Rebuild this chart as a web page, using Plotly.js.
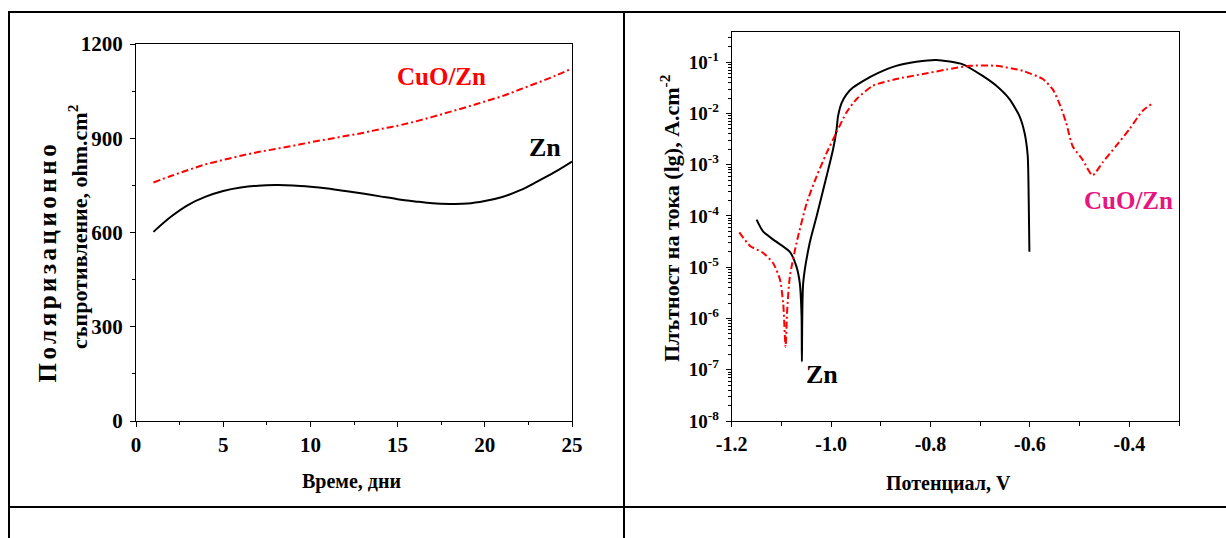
<!DOCTYPE html>
<html>
<head>
<meta charset="utf-8">
<script src="https://cdn.plot.ly/plotly-3.0.1.min.js"></script>
<style>
  html, body { margin: 0; padding: 0; background: #fff; }
  #chart { width: 1226px; height: 538px; }
</style>
</head>
<body>
<div id="chart"></div>
<script>
// ---- Left chart: polarization resistance vs time ----
const days = [1, 2, 3, 4, 5, 6, 7, 8, 9, 10, 11, 12, 13, 14, 15, 16, 17, 18, 19, 20, 21, 22, 23, 24, 25];
const rpZn = [602, 650, 688, 714, 732, 743, 749, 751, 750, 746, 740, 732, 724, 715, 706, 699, 693, 691, 692, 700, 713, 734, 762, 792, 826];
const rpCuOZn = [759, 780, 799, 817, 831, 844, 856, 866, 876, 887, 897, 907, 917, 929, 940, 953, 968, 984, 1000, 1017, 1034, 1055, 1076, 1098, 1122];

// ---- Right chart: polarization curves (potential V, current density A/cm2) ----
const potZn = [-1.150, -1.137, -1.117, -1.083, -1.070, -1.063, -1.0594, -1.0588, -1.0562, -1.043, -1.029, -1.009, -0.996, -0.989, -0.986, -0.979, -0.969, -0.956, -0.936, -0.905, -0.869, -0.8285, -0.788, -0.735, -0.695, -0.668, -0.641, -0.621, -0.611, -0.6044, -0.6024, -0.601];
const curZn = [8.5e-5, 5.0e-5, 3.5e-5, 2.0e-5, 1.05e-5, 4.9e-6, 1.1e-6, 1.45e-7, 4.9e-6, 3.0e-5, 1.0e-4, 6.0e-4, 2.0e-3, 4.9e-3, 8.9e-3, 1.6e-2, 2.37e-2, 3.2e-2, 4.3e-2, 6.2e-2, 8.5e-2, 1.02e-1, 1.11e-1, 9.1e-2, 5.4e-2, 3.5e-2, 1.9e-2, 8.9e-3, 4.3e-3, 1.5e-3, 2.1e-4, 2.0e-5];
const potCuOZn = [-1.1847, -1.163, -1.1365, -1.1165, -1.103, -1.0964, -1.0916, -1.0883, -1.083, -1.0695, -1.049, -1.029, -1.009, -0.989, -0.969, -0.949, -0.9156, -0.869, -0.815, -0.768, -0.7215, -0.668, -0.6145, -0.574, -0.554, -0.541, -0.527, -0.514, -0.494, -0.474, -0.454, -0.427, -0.400, -0.3735, -0.3546];
const curCuOZn = [4.8e-5, 2.6e-5, 1.9e-5, 1.2e-5, 5.8e-6, 2.0e-6, 2.8e-7, 1.5e-6, 6.6e-6, 3.0e-5, 1.8e-4, 6.0e-4, 1.7e-3, 4.3e-3, 1.05e-2, 1.9e-2, 3.5e-2, 4.7e-2, 5.9e-2, 7.2e-2, 8.5e-2, 8.5e-2, 6.8e-2, 4.7e-2, 2.95e-2, 1.6e-2, 6.6e-3, 2.3e-3, 1.26e-3, 6.2e-4, 1.1e-3, 2.3e-3, 4.9e-3, 1.12e-2, 1.55e-2];

const leftXTicks = [0, 5, 10, 15, 20, 25];
const leftYTicks = [0, 300, 600, 900, 1200];
const rightXTicks = [-1.2, -1.0, -0.8, -0.6, -0.4];
const rightXLabels = ['-1.2', '-1.0', '-0.8', '-0.6', '-0.4'];
const rightYTicks = [1e-8, 1e-7, 1e-6, 1e-5, 1e-4, 1e-3, 1e-2, 1e-1];
const rightYLabels = ['10<sup>-8</sup>', '10<sup>-7</sup>', '10<sup>-6</sup>', '10<sup>-5</sup>', '10<sup>-4</sup>', '10<sup>-3</sup>', '10<sup>-2</sup>', '10<sup>-1</sup>'];

const W = 1226, H = 538;
const px = x => x / W;
const py = y => 1 - y / H;
const SERIF = '"Times New Roman", "Liberation Serif", "DejaVu Serif", serif';

const DASHDOT = '7px,3px,2px,3px';
const traces = [
  { x: days, y: rpZn, mode: 'lines', line: { color: '#000', width: 2, shape: 'spline', smoothing: 1 }, xaxis: 'x', yaxis: 'y', name: 'Zn' },
  { x: days, y: rpCuOZn, mode: 'lines', line: { color: '#ff0000', width: 2, shape: 'spline', smoothing: 1, dash: DASHDOT }, xaxis: 'x', yaxis: 'y', name: 'CuO/Zn' },
  { x: potZn, y: curZn, mode: 'lines', line: { color: '#000', width: 2, shape: 'spline', smoothing: 0.6 }, xaxis: 'x2', yaxis: 'y2', name: 'Zn' },
  { x: potCuOZn, y: curCuOZn, mode: 'lines', line: { color: '#ff0000', width: 2, shape: 'spline', smoothing: 0.6, dash: DASHDOT }, xaxis: 'x2', yaxis: 'y2', name: 'CuO/Zn' }
];

const tickFontB = (s) => ({ family: SERIF, size: s, color: '#000', weight: 'bold' });

const axisBase = {
  showline: true, linecolor: '#000', linewidth: 1, mirror: true,
  showgrid: false, zeroline: false, ticks: 'outside', ticklen: 5, tickcolor: '#000', tickwidth: 1
};

function ann(text, x, y, size, color, angle) {
  return {
    text: text, x: px(x), y: py(y), xref: 'paper', yref: 'paper',
    xanchor: 'center', yanchor: 'middle', showarrow: false, textangle: angle || 0,
    font: { family: SERIF, size: size, color: color || '#000', weight: 'bold' }
  };
}

const layout = {
  width: W, height: H,
  font: { family: SERIF },
  margin: { l: 0, r: 0, t: 0, b: 0, autoexpand: false },
  paper_bgcolor: '#fff', plot_bgcolor: '#fff',
  showlegend: false,
  xaxis: Object.assign({}, axisBase, {
    domain: [px(136), px(572)], range: [0, 25], tickvals: leftXTicks, anchor: 'y',
    minor: { dtick: 2.5, ticks: 'outside', ticklen: 3, tickcolor: '#000' },
    ticklabelstandoff: 0, tickfont: tickFontB(21)
  }),
  yaxis: Object.assign({}, axisBase, {
    domain: [py(421), py(44)], range: [0, 1200], tickvals: leftYTicks, anchor: 'x',
    minor: { dtick: 150, ticks: 'outside', ticklen: 3, tickcolor: '#000' },
    ticklabelstandoff: 3, tickfont: tickFontB(21)
  }),
  xaxis2: Object.assign({}, axisBase, {
    domain: [px(731.7), px(1179)], range: [-1.2, -0.3], tickvals: rightXTicks, ticktext: rightXLabels, anchor: 'y2',
    minor: { dtick: 0.1, ticks: 'outside', ticklen: 4, tickcolor: '#000' },
    ticklabelstandoff: 0, tickfont: tickFontB(20)
  }),
  yaxis2: Object.assign({}, axisBase, {
    type: 'log', domain: [py(421), py(32)], range: [-8, -0.41], tickvals: rightYTicks, ticktext: rightYLabels, anchor: 'x2',
    minor: { dtick: 'D1', ticks: 'outside', ticklen: 3, tickcolor: '#000' },
    ticklabelstandoff: 3, tickfont: tickFontB(19)
  }),
  shapes: [
    { type: 'line', xref: 'paper', yref: 'paper', x0: px(8), x1: 1, y0: py(12), y1: py(12), line: { color: '#000', width: 2 } },
    { type: 'line', xref: 'paper', yref: 'paper', x0: px(9), x1: px(9), y0: py(12), y1: 0, line: { color: '#000', width: 2 } },
    { type: 'line', xref: 'paper', yref: 'paper', x0: px(624), x1: px(624), y0: py(12), y1: 0, line: { color: '#000', width: 2 } },
    { type: 'line', xref: 'paper', yref: 'paper', x0: px(8), x1: 1, y0: py(507), y1: py(507), line: { color: '#000', width: 2 } }
  ],
  annotations: [
    ann('Поляризационно', 47, 262, 25, '#000', -90),
    ann('съпротивление, ohm.cm<sup>2</sup>', 78, 227, 22, '#000', -90),
    ann('Време, дни', 352, 481, 20),
    ann('CuO/Zn', 441, 77, 25, '#ff0000'),
    ann('Zn', 545, 147, 26),
    ann('Плътност на тока (lg), A.cm<sup>-2</sup>', 670, 218, 22, '#000', -90),
    ann('Потенциал, V', 948, 483, 20),
    ann('CuO/Zn', 1128, 200, 25, '#e8157f'),
    ann('Zn', 822, 374, 26)
  ]
};

Plotly.newPlot('chart', traces, layout, { displayModeBar: false, staticPlot: true }).then(() => {
  const spacing = { 'Поляризационно': '3.5px', 'Плътност на тока (lg), A.cm-2': '2px', 'съпротивление, ohm.cm2': '1px' };
  document.querySelectorAll('.annotation-text').forEach(t => {
    const s = spacing[t.textContent];
    if (s) t.style.letterSpacing = s;
  });
});
</script>
</body>
</html>
